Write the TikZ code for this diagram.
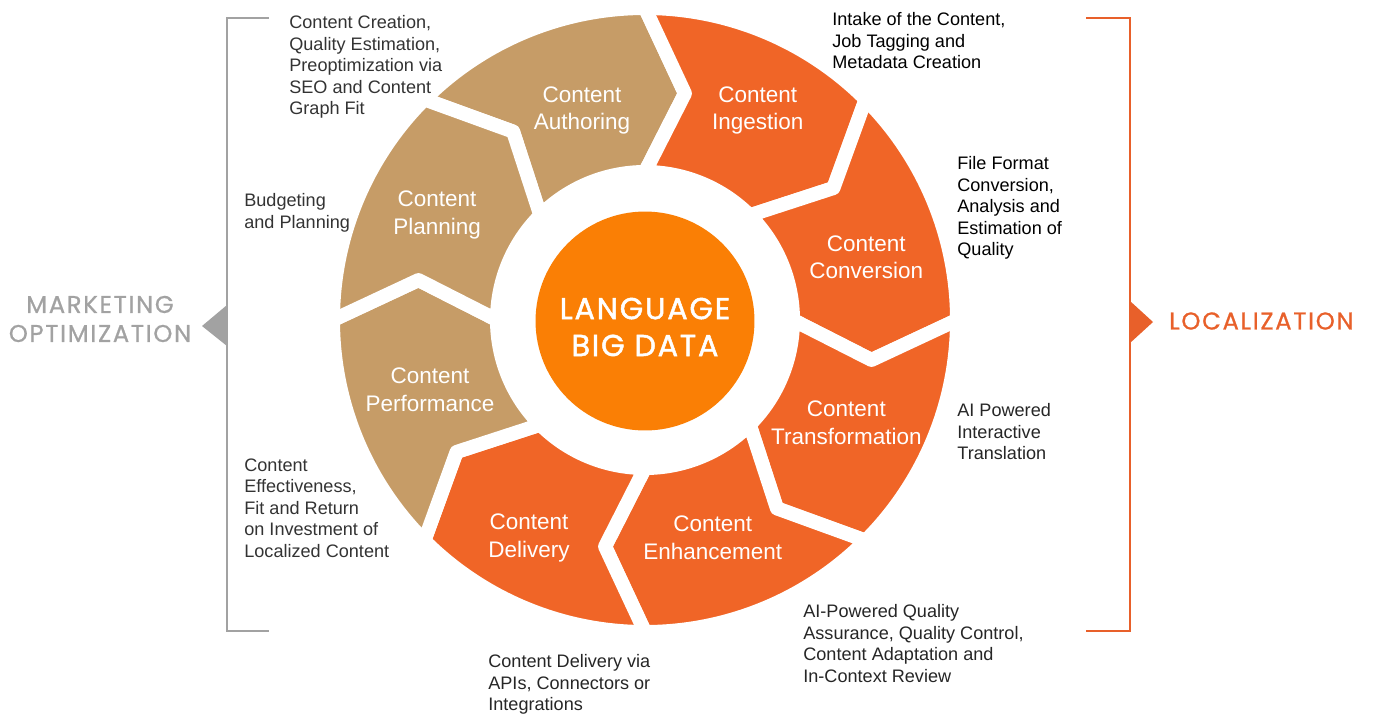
\documentclass[tikz,border=0pt]{standalone}
\usepackage{fontspec}
\setmainfont{Liberation Sans}
\newfontfamily\capsfont[LetterSpace=7, FakeBold=0.8]{Poppins}
\newfontfamily\corefont[LetterSpace=6, FakeBold=1.6]{Poppins}
\usetikzlibrary{calc}
\definecolor{segtan}{HTML}{C69C67}
\definecolor{segorange}{HTML}{F06527}
\definecolor{coreorange}{HTML}{FA7F05}
\definecolor{markgray}{HTML}{A2A2A2}
\definecolor{locorange}{HTML}{E8602A}

\begin{document}
\begin{tikzpicture}[x=0.02cm, y=-0.02cm,
        segment/.style={draw=white, line width=0.28cm, line join=round},
        seglabel/.style={align=center, text=white, font=\fontsize{12.8}{15.6}\selectfont},
        note/.style={align=left, anchor=north west, inner sep=0pt, font=\fontsize{10.3}{12.3}\selectfont},
        sidelabel/.style={align=center, font=\capsfont\fontsize{13.8}{16.5}\selectfont}]
    \useasboundingbox (0,0) rectangle (1375,714);
    \begin{scope}[shift={(645,320)}, y=0.02cm]
        \foreach \a/\col/\nm/\la/\lr/\txt in {135/segtan/authoring/106.7/219/{Content\\Authoring},
            90/segorange/ingestion/61.7/238/{Content\\Ingestion}, 45/segorange/conversion/15.9/230/{Content\\Conversion},
            0/segorange/transformation/-27/226/{Content\\Transformation}, -45/segorange/enhancement/-72.7/228/{Content\\Enhancement},
            -90/segorange/delivery/-118/247/{Content\\Delivery}, -135/segtan/performance/198/226/{Content\\Performance},
            180/segtan/planning/153.2/233/{Content\\Planning}}{
            \begin{scope}[rotate=\a-90]
                \filldraw[segment, fill=\col] (90:312) arc[start angle=90, end angle=45, radius=312] -- (35:230)
                    -- (45:148) arc[start angle=45, end angle=90, radius=148] -- (80:230) -- cycle;
            \end{scope}
            \node[seglabel] (\nm) at (\la:\lr) {\txt};
        }
        \node[circle, fill=coreorange, minimum size=4.38cm] (core) at (0,-1) {};
        \node[text=white, align=center, font=\corefont\fontsize{17.2}{21}\selectfont] (coretext) at (0,-7) {LANGUAGE\\BIG DATA};
    \end{scope}

    \draw[markgray, line width=1.4pt] (269,18) -- (227,18) -- (227,631) -- (269,631);
    \fill[markgray] (227,305) -- (202,326) -- (227,346) -- cycle;
    \node[sidelabel, text=markgray] (marketing) at (100,319) {MARKETING\\OPTIMIZATION};
    \draw[locorange, line width=1.4pt] (1086,18) -- (1130,18) -- (1130,631) -- (1086,631);
    \fill[locorange] (1130,301) -- (1153,322) -- (1130,343) -- cycle;
    \node[sidelabel, text=locorange, anchor=west] (localization) at (1163,321) {LOCALIZATION};

    \node[note, text=black!80] (authoringnote) at (289,15) {Content Creation,\\Quality Estimation,\\Preoptimization via\\SEO and Content\\Graph Fit};
    \node[note, text=black!80] (planningnote) at (244,193) {Budgeting\\and Planning};
    \node[note, text=black!80] (performancenote) at (244,458) {Content\\Effectiveness,\\Fit and Return\\on Investment of\\Localized Content};
    \node[note, text=black!85] (deliverynote) at (488,654) {Content Delivery via\\APIs, Connectors or\\Integrations};
    \node[note, text=black!85] (enhancementnote) at (803,604) {AI-Powered Quality\\Assurance, Quality Control,\\Content Adaptation and\\In-Context Review};
    \node[note, text=black!85] (transformationnote) at (957,403) {AI Powered\\Interactive\\Translation};
    \node[note, text=black] (conversionnote) at (957,156) {File Format\\Conversion,\\Analysis and\\Estimation of\\Quality};
    \node[note, text=black] (ingestionnote) at (832,12) {Intake of the Content,\\Job Tagging and\\Metadata Creation};
\end{tikzpicture}
\end{document}
